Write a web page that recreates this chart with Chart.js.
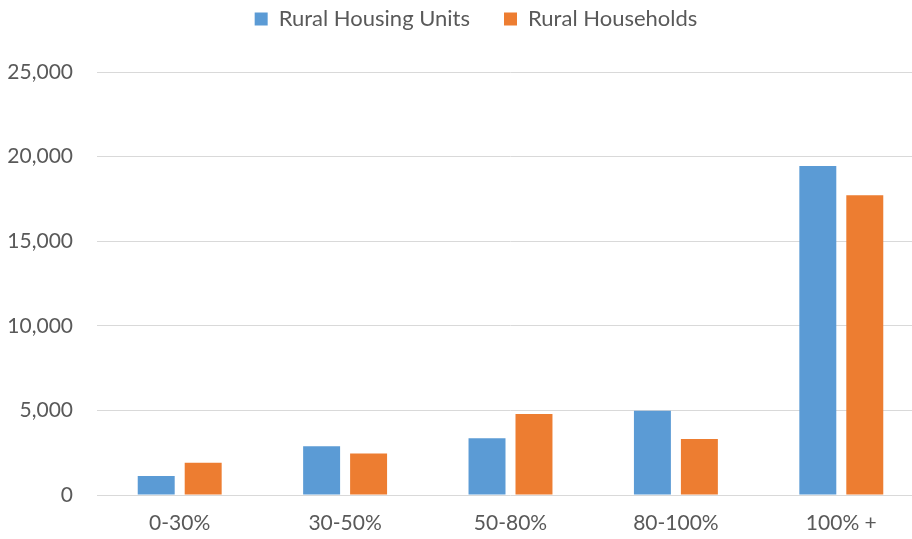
<!DOCTYPE html>
<html>
<head>
<meta charset="utf-8">
<script src="https://cdn.jsdelivr.net/npm/chart.js@4"></script>
<style>
html,body{margin:0;padding:0;background:#fff;overflow:hidden;width:912px;height:539px;}
#wrap{position:absolute;left:0;top:-26px;width:924px;height:565px;}
</style>
</head>
<body>
<div id="wrap"><canvas id="c"></canvas></div>
<script>
const categories = ['0-30%', '30-50%', '50-80%', '80-100%', '100% +'];
const housingUnits = [1120, 2880, 3350, 4980, 19450];
const households = [1910, 2460, 4790, 3310, 17720];
const seriesNames = ['Rural Housing Units', 'Rural Households'];
const yTicks = [0, 5000, 10000, 15000, 20000, 25000];

const txt = '#595959';
const font = {family: 'Lato, "Open Sans", sans-serif', size: 21};

// give the legend a fixed height and nudge it right a little
const legendSpace = {
  id: 'legendSpace',
  beforeInit(chart) {
    const fit = chart.legend.fit;
    chart.legend.fit = function () {
      fit.call(this);
      this.height = 98;
    };
  },
  afterLayout(chart) {
    chart.legend.left += 14;
    chart.legend.right += 14;
  }
};

new Chart(document.getElementById('c'), {
  type: 'bar',
  data: {
    labels: categories,
    datasets: [
      {label: seriesNames[0], data: housingUnits, backgroundColor: '#5B9BD5'},
      {label: seriesNames[1], data: households, backgroundColor: '#ED7D31'}
    ]
  },
  options: {
    responsive: true,
    maintainAspectRatio: false,
    animation: false,
    datasets: {bar: {barPercentage: 0.787, categoryPercentage: 0.568, borderWidth: 0}},
    layout: {padding: 0},
    plugins: {
      tooltip: {enabled: false},
      legend: {
        position: 'top',
        labels: {boxWidth: 13, boxHeight: 13, padding: 34, color: txt, font: {family: font.family, size: 22}}
      }
    },
    scales: {
      x: {
        grid: {display: false},
        border: {display: false},
        ticks: {color: txt, font: font, padding: 8, maxRotation: 0},
        afterFit(s) { s.height = 44; }
      },
      y: {
        min: 0,
        max: yTicks[yTicks.length - 1],
        afterBuildTicks(s) { s.ticks = yTicks.map(v => ({value: v})); },
        grid: {color: '#D9D9D9', lineWidth: 1, drawTicks: false},
        border: {display: false},
        ticks: {
          color: txt, font: font, padding: 24,
          callback: v => v.toLocaleString('en-US')
        },
        afterFit(s) { s.width = 97; }
      }
    }
  },
  plugins: [legendSpace]
});
</script>
</body>
</html>
